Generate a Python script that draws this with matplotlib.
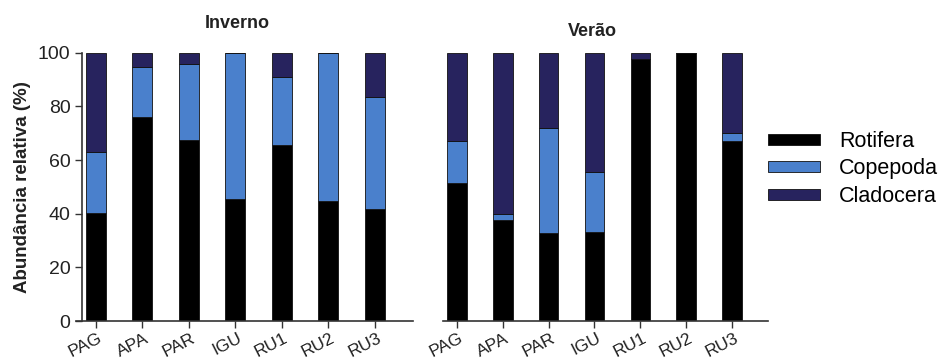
import matplotlib
matplotlib.use("Agg")
import matplotlib.pyplot as plt
import matplotlib.transforms as mtransforms
from matplotlib.patches import Patch
import numpy as np

plt.rcParams['font.family'] = ['Liberation Sans', 'DejaVu Sans']

sites = ["PAG", "APA", "PAR", "IGU", "RU1", "RU2", "RU3"]
series = ["Rotifera", "Copepoda", "Cladocera"]
colors = ["#000000", "#4a80cc", "#27235e"]

# Inverno (winter), % per group
inv_rotifera = [40.1, 76.1, 67.5, 45.5, 65.6, 44.6, 41.7]
inv_copepoda = [23.0, 18.7, 28.3, 54.5, 25.3, 55.4, 41.7]
inv_cladocera = [36.9, 5.2, 4.2, 0.0, 9.1, 0.0, 16.6]

# Verão (summer), % per group
ver_rotifera = [51.3, 37.6, 32.7, 33.0, 97.8, 100.0, 67.1]
ver_copepoda = [15.8, 2.4, 39.1, 22.4, 0.0, 0.0, 2.8]
ver_cladocera = [32.9, 60.0, 28.2, 44.6, 2.2, 0.0, 30.1]

W, H = 949, 360
fig = plt.figure(figsize=(W / 100, H / 100), dpi=100)

def fx(px):
    return px / W

def fy(py):
    return 1 - py / H

y0, y100 = 321, 52.7
ax1 = fig.add_axes([fx(76), fy(y0), fx(413 - 76), (y0 - y100) / H])
ax2 = fig.add_axes([fx(443), fy(y0), fx(768 - 443), (y0 - y100) / H])

def draw(ax, data, xlim):
    x = np.arange(len(sites))
    bottom = np.zeros(len(sites))
    for vals, c, name in zip(data, colors, series):
        v = np.array(vals)
        ax.bar(x, v, bottom=bottom, width=0.43, color=c, edgecolor="#111111",
               linewidth=0.6, label=name)
        bottom += v
    ax.set_xlim(*xlim)
    ax.set_ylim(0, 100)
    ax.set_xticks(x)
    ax.set_xticklabels(sites, rotation=27, ha="right", rotation_mode="anchor",
                       fontsize=12.5, color="#222222")
    ax.tick_params(axis="x", length=5, width=1, direction="out", pad=2,
                   color="#333333")
    for s in ["top", "right"]:
        ax.spines[s].set_visible(False)
    ax.spines["bottom"].set_linewidth(1.2)
    ax.spines["bottom"].set_color("#333333")

draw(ax1, [inv_rotifera, inv_copepoda, inv_cladocera], (-0.42, 6.82))
draw(ax2, [ver_rotifera, ver_copepoda, ver_cladocera], (-0.30, 6.78))

for ax in (ax1, ax2):
    off = mtransforms.ScaledTranslation(2 / 100, 0, fig.dpi_scale_trans)
    for lbl in ax.get_xticklabels():
        lbl.set_transform(lbl.get_transform() + off)

ax1.spines["left"].set_position(("data", -0.30))
ax1.spines["left"].set_linewidth(1.2)
ax1.spines["left"].set_color("#333333")
ax1.set_yticks([0, 20, 40, 60, 80, 100])
ax1.tick_params(axis="y", length=5, width=1, labelsize=14, color="#333333",
                labelcolor="#222222", pad=3)
ax1.set_ylabel("Abundância relativa (%)", fontsize=13.5, fontweight="bold",
               labelpad=5, color="#222222")

ax2.spines["left"].set_visible(False)
ax2.set_yticks([])

fig.text(fx(237), fy(23), "Inverno", ha="center", va="center",
         fontsize=13, fontweight="bold", color="#222222")
fig.text(fx(592), fy(31), "Verão", ha="center", va="center",
         fontsize=13, fontweight="bold", color="#222222")

handles = [Patch(facecolor=c, edgecolor="#111111", linewidth=0.6) for c in colors]
fig.legend(handles, series, loc="upper left",
           bbox_to_anchor=(fx(768), fy(131)), frameon=False,
           fontsize=15.5, handlelength=2.4, handleheight=0.42,
           handletextpad=0.9, labelspacing=0.3, borderaxespad=0,
           borderpad=0)

fig.savefig("out.png", dpi=100)
